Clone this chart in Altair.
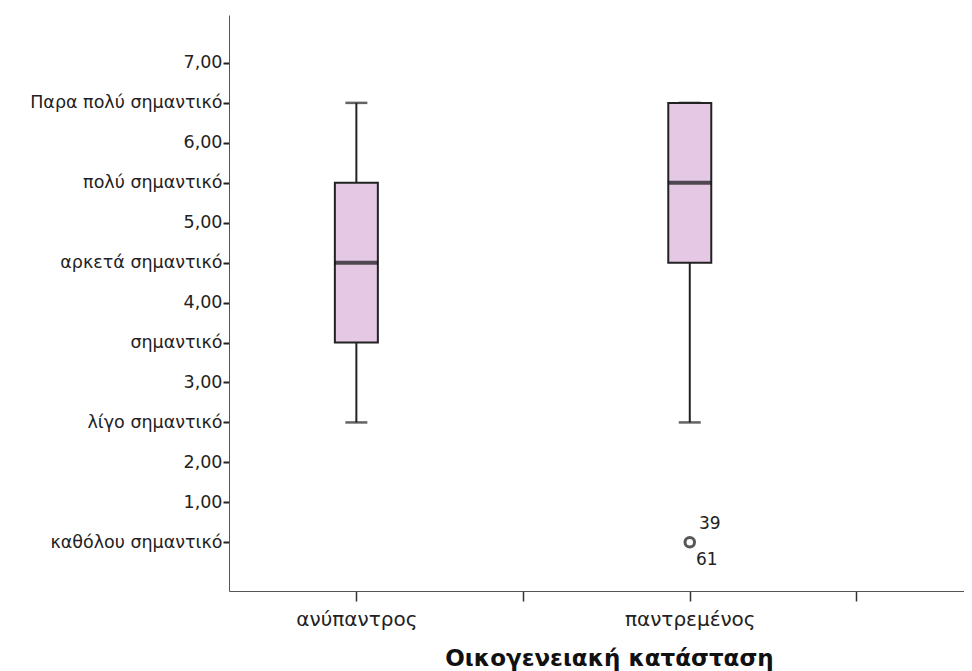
import altair as alt
import pandas as pd

# Y axis: evenly spaced tick positions (SPSS mixed numeric/value-label axis)
y_tick_pos = list(range(13))
y_tick_labels = ["καθόλου σημαντικό", "1,00", "2,00", "λίγο σημαντικό", "3,00",
                 "σημαντικό", "4,00", "αρκετά σημαντικό", "5,00",
                 "πολύ σημαντικό", "6,00", "Παρα πολύ σημαντικό", "7,00"]

# X axis categories (positions 1..4, two unlabeled)
x_pos = [1, 2, 3, 4]
x_labels = ["ανύπαντρος", "", "παντρεμένος", ""]

# Box statistics (in axis-position units)
groups = ["ανύπαντρος", "παντρεμένος"]
group_x = [1, 3]
lower = [3, 3]
q1 = [5, 7]
median = [7, 9]
q3 = [9, 11]
upper = [11, 11]

# Outliers
out_x = [3]
out_y = [0]
out_top_label = ["39"]
out_bottom_label = ["61"]

box = pd.DataFrame({"group": groups, "x": group_x, "lower": lower, "q1": q1,
                    "median": median, "q3": q3, "upper": upper})
outl = pd.DataFrame({"x": out_x, "y": out_y, "top": out_top_label, "bottom": out_bottom_label})

font = "DejaVu Sans"
ylabel_expr = "[" + ",".join("'" + s + "'" for s in y_tick_labels) + "][datum.value]"
xlabel_expr = "[''," + ",".join("'" + s + "'" for s in x_labels) + "][datum.value]"

xscale = alt.Scale(domain=[0.266, 4.615], nice=False, zero=False)
yscale = alt.Scale(domain=[-1.22, 13.2], nice=False, zero=False)

xenc = alt.X("x:Q", scale=xscale,
             axis=alt.Axis(values=x_pos, labelExpr=xlabel_expr, grid=False,
                           title="Οικογενειακή κατάσταση", titleFont=font,
                           titleFontSize=23, titleFontWeight="bold", titleColor="#111",
                           titlePadding=18, titleX=380, labelFont=font, labelFontSize=20,
                           labelColor="#222", labelPadding=8, tickSize=10,
                           tickColor="#333", tickWidth=1.5, domainColor="#555",
                           labelFlush=False, labelLimit=400))

yaxis = alt.Axis(values=y_tick_pos, labelExpr=ylabel_expr, grid=False, title=None,
                 labelFont=font, labelFontSize=17.5, labelColor="#222", tickSize=6,
                 tickColor="#222", tickWidth=2, domainColor="#555", labelPadding=1,
                 labelFlush=False, labelLimit=400)

base = alt.Chart(box)

whisk_lo = base.mark_rule(color="#222", strokeWidth=2).encode(
    x=xenc, y=alt.Y("lower:Q", scale=yscale, axis=yaxis), y2="q1:Q")
whisk_hi = base.mark_rule(color="#222", strokeWidth=2).encode(
    x="x:Q", y="q3:Q", y2="upper:Q")
cap_lo = base.mark_tick(color="#222", size=22, thickness=2.5, orient="horizontal").encode(
    x="x:Q", y="lower:Q")
cap_hi = base.mark_tick(color="#222", size=22, thickness=2.5, orient="horizontal").encode(
    x="x:Q", y="upper:Q")
boxes = base.mark_bar(size=43, color="#E4C8E4", stroke="#222", strokeWidth=2).encode(
    x="x:Q", y="q1:Q", y2="q3:Q")
med = base.mark_tick(color="#111", size=43, thickness=4, orient="horizontal").encode(
    x="x:Q", y="median:Q")

ob = alt.Chart(outl)
pts = ob.mark_point(shape="circle", filled=False, size=90, color="#111", strokeWidth=3).encode(
    x="x:Q", y="y:Q")
t_top = ob.mark_text(font=font, fontSize=17, color="#222", dx=20, dy=-18).encode(
    x="x:Q", y="y:Q", text="top:N")
t_bot = ob.mark_text(font=font, fontSize=17, color="#222", dx=17, dy=18).encode(
    x="x:Q", y="y:Q", text="bottom:N")

chart = alt.layer(whisk_lo, whisk_hi, cap_lo, cap_hi, boxes, med, pts, t_top, t_bot).properties(
    width=735, height=576,
    autosize=alt.AutoSizeParams(type="none"),
    padding={"left": 221, "top": 7, "right": 0, "bottom": 80},
    background="white",
).configure_view(stroke=None)

chart.save("out.html", embed_options={"renderer": "svg", "actions": False})
